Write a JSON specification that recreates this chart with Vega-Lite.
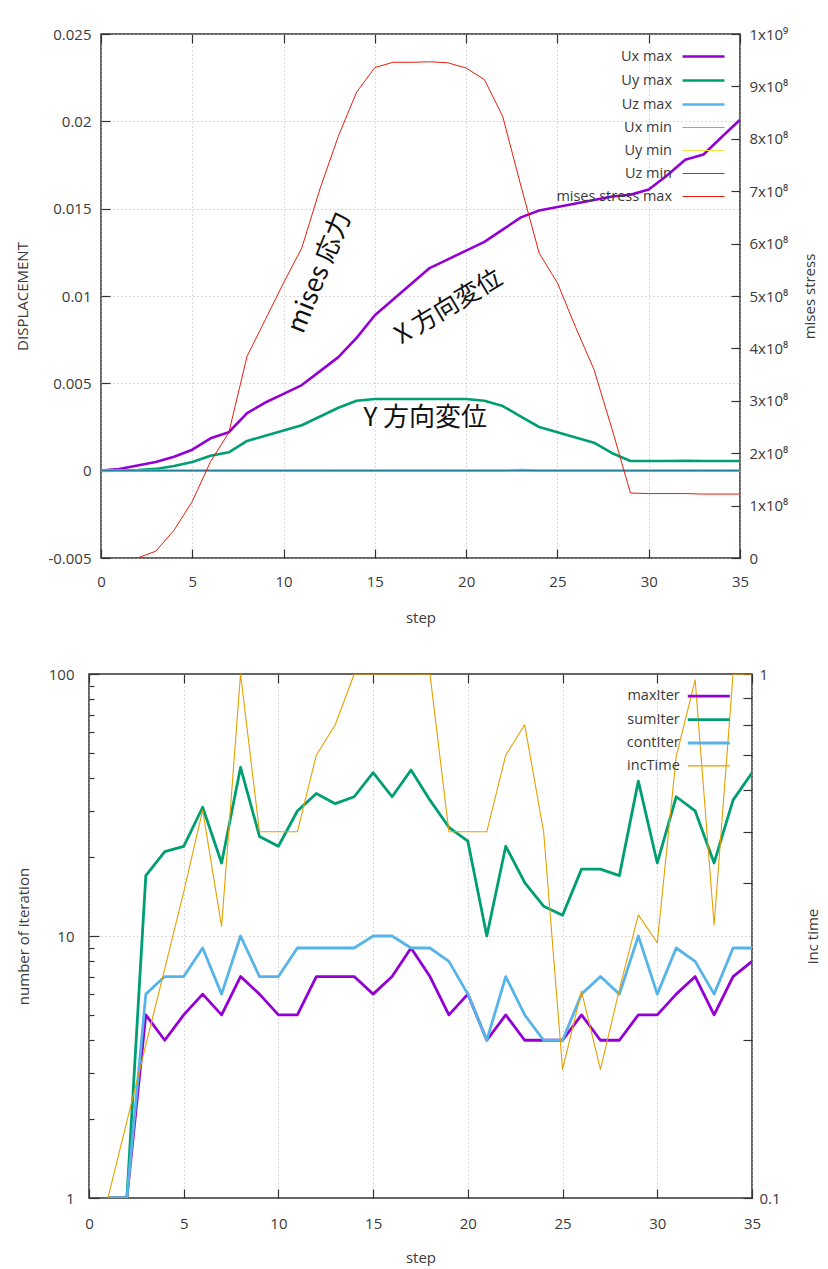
{
  "$schema": "https://vega.github.io/schema/vega-lite/v6.json",
  "background": "white",
  "padding": {"top": 26, "left": 14, "right": 0, "bottom": 0},
  "config": {
    "font": "Open Sans",
    "view": {"stroke": "#333333", "strokeWidth": 1.5},
    "axis": {"labelFontSize": 15, "labelColor": "#3a3a3a", "titleFontSize": 15, "titleFontWeight": "normal", "titleColor": "#3a3a3a", "tickColor": "#333333", "tickWidth": 1.2, "domain": false, "gridColor": "#b5b5b5", "gridDash": [1, 3], "gridWidth": 1, "labelFlush": false, "labelOverlap": false},
    "line": {"strokeJoin": "round"}
  },
  "datasets": {
    "disp": [
      {"step":0,"series":"Ux max","value":0},{"step":1,"series":"Ux max","value":0.0001},{"step":2,"series":"Ux max","value":0.0003},{"step":3,"series":"Ux max","value":0.0005},{"step":4,"series":"Ux max","value":0.0008},{"step":5,"series":"Ux max","value":0.0012},{"step":6,"series":"Ux max","value":0.00185},{"step":7,"series":"Ux max","value":0.0022},{"step":8,"series":"Ux max","value":0.0033},{"step":9,"series":"Ux max","value":0.0039},{"step":10,"series":"Ux max","value":0.0044},{"step":11,"series":"Ux max","value":0.0049},{"step":12,"series":"Ux max","value":0.0057},{"step":13,"series":"Ux max","value":0.0065},{"step":14,"series":"Ux max","value":0.0076},{"step":15,"series":"Ux max","value":0.0089},{"step":16,"series":"Ux max","value":0.0098},{"step":17,"series":"Ux max","value":0.0107},{"step":18,"series":"Ux max","value":0.0116},{"step":19,"series":"Ux max","value":0.0121},{"step":20,"series":"Ux max","value":0.0126},{"step":21,"series":"Ux max","value":0.0131},{"step":22,"series":"Ux max","value":0.0138},{"step":23,"series":"Ux max","value":0.0145},{"step":24,"series":"Ux max","value":0.0149},{"step":25,"series":"Ux max","value":0.0151},{"step":26,"series":"Ux max","value":0.0153},{"step":27,"series":"Ux max","value":0.0155},{"step":28,"series":"Ux max","value":0.0157},{"step":29,"series":"Ux max","value":0.0158},{"step":30,"series":"Ux max","value":0.0161},{"step":31,"series":"Ux max","value":0.0169},{"step":32,"series":"Ux max","value":0.0178},{"step":33,"series":"Ux max","value":0.0181},{"step":34,"series":"Ux max","value":0.0191},{"step":35,"series":"Ux max","value":0.0201},
      {"step":0,"series":"Uy max","value":0},{"step":1,"series":"Uy max","value":0},{"step":2,"series":"Uy max","value":0.00003},{"step":3,"series":"Uy max","value":0.0001},{"step":4,"series":"Uy max","value":0.00027},{"step":5,"series":"Uy max","value":0.0005},{"step":6,"series":"Uy max","value":0.00085},{"step":7,"series":"Uy max","value":0.00105},{"step":8,"series":"Uy max","value":0.0017},{"step":9,"series":"Uy max","value":0.002},{"step":10,"series":"Uy max","value":0.0023},{"step":11,"series":"Uy max","value":0.0026},{"step":12,"series":"Uy max","value":0.0031},{"step":13,"series":"Uy max","value":0.0036},{"step":14,"series":"Uy max","value":0.004},{"step":15,"series":"Uy max","value":0.0041},{"step":16,"series":"Uy max","value":0.0041},{"step":17,"series":"Uy max","value":0.0041},{"step":18,"series":"Uy max","value":0.0041},{"step":19,"series":"Uy max","value":0.0041},{"step":20,"series":"Uy max","value":0.0041},{"step":21,"series":"Uy max","value":0.004},{"step":22,"series":"Uy max","value":0.0037},{"step":23,"series":"Uy max","value":0.0031},{"step":24,"series":"Uy max","value":0.0025},{"step":25,"series":"Uy max","value":0.0022},{"step":26,"series":"Uy max","value":0.0019},{"step":27,"series":"Uy max","value":0.0016},{"step":28,"series":"Uy max","value":0.001},{"step":29,"series":"Uy max","value":0.00055},{"step":30,"series":"Uy max","value":0.00055},{"step":31,"series":"Uy max","value":0.00055},{"step":32,"series":"Uy max","value":0.00056},{"step":33,"series":"Uy max","value":0.00055},{"step":34,"series":"Uy max","value":0.00055},{"step":35,"series":"Uy max","value":0.00055},
      {"step":0,"series":"Uz max","value":0},{"step":1,"series":"Uz max","value":0},{"step":2,"series":"Uz max","value":0},{"step":3,"series":"Uz max","value":0},{"step":4,"series":"Uz max","value":0},{"step":5,"series":"Uz max","value":0},{"step":6,"series":"Uz max","value":0},{"step":7,"series":"Uz max","value":0},{"step":8,"series":"Uz max","value":0},{"step":9,"series":"Uz max","value":0},{"step":10,"series":"Uz max","value":0},{"step":11,"series":"Uz max","value":0},{"step":12,"series":"Uz max","value":0},{"step":13,"series":"Uz max","value":0},{"step":14,"series":"Uz max","value":0},{"step":15,"series":"Uz max","value":0},{"step":16,"series":"Uz max","value":0},{"step":17,"series":"Uz max","value":0},{"step":18,"series":"Uz max","value":0},{"step":19,"series":"Uz max","value":0},{"step":20,"series":"Uz max","value":0},{"step":21,"series":"Uz max","value":0},{"step":22,"series":"Uz max","value":0},{"step":23,"series":"Uz max","value":0.00003},{"step":24,"series":"Uz max","value":0},{"step":25,"series":"Uz max","value":0},{"step":26,"series":"Uz max","value":0},{"step":27,"series":"Uz max","value":0},{"step":28,"series":"Uz max","value":0},{"step":29,"series":"Uz max","value":0},{"step":30,"series":"Uz max","value":0},{"step":31,"series":"Uz max","value":0},{"step":32,"series":"Uz max","value":0},{"step":33,"series":"Uz max","value":0},{"step":34,"series":"Uz max","value":0},{"step":35,"series":"Uz max","value":0},
      {"step":0,"series":"Ux min","value":0},{"step":1,"series":"Ux min","value":0},{"step":2,"series":"Ux min","value":0},{"step":3,"series":"Ux min","value":0},{"step":4,"series":"Ux min","value":0},{"step":5,"series":"Ux min","value":0},{"step":6,"series":"Ux min","value":0},{"step":7,"series":"Ux min","value":0},{"step":8,"series":"Ux min","value":0},{"step":9,"series":"Ux min","value":0},{"step":10,"series":"Ux min","value":0},{"step":11,"series":"Ux min","value":0},{"step":12,"series":"Ux min","value":0},{"step":13,"series":"Ux min","value":0},{"step":14,"series":"Ux min","value":0},{"step":15,"series":"Ux min","value":0},{"step":16,"series":"Ux min","value":0},{"step":17,"series":"Ux min","value":0},{"step":18,"series":"Ux min","value":0},{"step":19,"series":"Ux min","value":0},{"step":20,"series":"Ux min","value":0},{"step":21,"series":"Ux min","value":0},{"step":22,"series":"Ux min","value":0},{"step":23,"series":"Ux min","value":0},{"step":24,"series":"Ux min","value":0},{"step":25,"series":"Ux min","value":0},{"step":26,"series":"Ux min","value":0},{"step":27,"series":"Ux min","value":0},{"step":28,"series":"Ux min","value":0},{"step":29,"series":"Ux min","value":0},{"step":30,"series":"Ux min","value":0},{"step":31,"series":"Ux min","value":0},{"step":32,"series":"Ux min","value":0},{"step":33,"series":"Ux min","value":0},{"step":34,"series":"Ux min","value":0},{"step":35,"series":"Ux min","value":0},
      {"step":0,"series":"Uy min","value":0},{"step":1,"series":"Uy min","value":0},{"step":2,"series":"Uy min","value":0},{"step":3,"series":"Uy min","value":0},{"step":4,"series":"Uy min","value":0},{"step":5,"series":"Uy min","value":0},{"step":6,"series":"Uy min","value":0},{"step":7,"series":"Uy min","value":0},{"step":8,"series":"Uy min","value":0},{"step":9,"series":"Uy min","value":0},{"step":10,"series":"Uy min","value":0},{"step":11,"series":"Uy min","value":0},{"step":12,"series":"Uy min","value":0},{"step":13,"series":"Uy min","value":0},{"step":14,"series":"Uy min","value":0},{"step":15,"series":"Uy min","value":0},{"step":16,"series":"Uy min","value":0},{"step":17,"series":"Uy min","value":0},{"step":18,"series":"Uy min","value":0},{"step":19,"series":"Uy min","value":0},{"step":20,"series":"Uy min","value":0},{"step":21,"series":"Uy min","value":0},{"step":22,"series":"Uy min","value":0},{"step":23,"series":"Uy min","value":0},{"step":24,"series":"Uy min","value":0},{"step":25,"series":"Uy min","value":0},{"step":26,"series":"Uy min","value":0},{"step":27,"series":"Uy min","value":0},{"step":28,"series":"Uy min","value":0},{"step":29,"series":"Uy min","value":0},{"step":30,"series":"Uy min","value":0},{"step":31,"series":"Uy min","value":0},{"step":32,"series":"Uy min","value":0},{"step":33,"series":"Uy min","value":0},{"step":34,"series":"Uy min","value":0},{"step":35,"series":"Uy min","value":0},
      {"step":0,"series":"Uz min","value":0},{"step":1,"series":"Uz min","value":0},{"step":2,"series":"Uz min","value":0},{"step":3,"series":"Uz min","value":0},{"step":4,"series":"Uz min","value":0},{"step":5,"series":"Uz min","value":0},{"step":6,"series":"Uz min","value":0},{"step":7,"series":"Uz min","value":0},{"step":8,"series":"Uz min","value":0},{"step":9,"series":"Uz min","value":0},{"step":10,"series":"Uz min","value":0},{"step":11,"series":"Uz min","value":0},{"step":12,"series":"Uz min","value":0},{"step":13,"series":"Uz min","value":0},{"step":14,"series":"Uz min","value":0},{"step":15,"series":"Uz min","value":0},{"step":16,"series":"Uz min","value":0},{"step":17,"series":"Uz min","value":0},{"step":18,"series":"Uz min","value":0},{"step":19,"series":"Uz min","value":0},{"step":20,"series":"Uz min","value":0},{"step":21,"series":"Uz min","value":0},{"step":22,"series":"Uz min","value":0},{"step":23,"series":"Uz min","value":0},{"step":24,"series":"Uz min","value":0},{"step":25,"series":"Uz min","value":0},{"step":26,"series":"Uz min","value":0},{"step":27,"series":"Uz min","value":0},{"step":28,"series":"Uz min","value":0},{"step":29,"series":"Uz min","value":0},{"step":30,"series":"Uz min","value":0},{"step":31,"series":"Uz min","value":0},{"step":32,"series":"Uz min","value":0},{"step":33,"series":"Uz min","value":0},{"step":34,"series":"Uz min","value":0},{"step":35,"series":"Uz min","value":0}
    ],
    "stress": [
      {"step":0,"series":"mises stress max","value":0},{"step":1,"series":"mises stress max","value":0},{"step":2,"series":"mises stress max","value":0},{"step":3,"series":"mises stress max","value":1.3e7},{"step":4,"series":"mises stress max","value":5.3e7},{"step":5,"series":"mises stress max","value":1.08e8},{"step":6,"series":"mises stress max","value":1.84e8},{"step":7,"series":"mises stress max","value":2.39e8},{"step":8,"series":"mises stress max","value":3.85e8},{"step":9,"series":"mises stress max","value":4.55e8},{"step":10,"series":"mises stress max","value":5.25e8},{"step":11,"series":"mises stress max","value":5.92e8},{"step":12,"series":"mises stress max","value":7.05e8},{"step":13,"series":"mises stress max","value":8.05e8},{"step":14,"series":"mises stress max","value":8.89e8},{"step":15,"series":"mises stress max","value":9.36e8},{"step":16,"series":"mises stress max","value":9.46e8},{"step":17,"series":"mises stress max","value":9.46e8},{"step":18,"series":"mises stress max","value":9.47e8},{"step":19,"series":"mises stress max","value":9.45e8},{"step":20,"series":"mises stress max","value":9.35e8},{"step":21,"series":"mises stress max","value":9.13e8},{"step":22,"series":"mises stress max","value":8.43e8},{"step":23,"series":"mises stress max","value":7.1e8},{"step":24,"series":"mises stress max","value":5.82e8},{"step":25,"series":"mises stress max","value":5.25e8},{"step":26,"series":"mises stress max","value":4.4e8},{"step":27,"series":"mises stress max","value":3.6e8},{"step":28,"series":"mises stress max","value":2.45e8},{"step":29,"series":"mises stress max","value":1.24e8},{"step":30,"series":"mises stress max","value":1.23e8},{"step":31,"series":"mises stress max","value":1.23e8},{"step":32,"series":"mises stress max","value":1.23e8},{"step":33,"series":"mises stress max","value":1.22e8},{"step":34,"series":"mises stress max","value":1.22e8},{"step":35,"series":"mises stress max","value":1.22e8}
    ],
    "iter": [
      {"step":1,"series":"maxIter","value":1},{"step":2,"series":"maxIter","value":1},{"step":3,"series":"maxIter","value":5},{"step":4,"series":"maxIter","value":4},{"step":5,"series":"maxIter","value":5},{"step":6,"series":"maxIter","value":6},{"step":7,"series":"maxIter","value":5},{"step":8,"series":"maxIter","value":7},{"step":9,"series":"maxIter","value":6},{"step":10,"series":"maxIter","value":5},{"step":11,"series":"maxIter","value":5},{"step":12,"series":"maxIter","value":7},{"step":13,"series":"maxIter","value":7},{"step":14,"series":"maxIter","value":7},{"step":15,"series":"maxIter","value":6},{"step":16,"series":"maxIter","value":7},{"step":17,"series":"maxIter","value":9},{"step":18,"series":"maxIter","value":7},{"step":19,"series":"maxIter","value":5},{"step":20,"series":"maxIter","value":6},{"step":21,"series":"maxIter","value":4},{"step":22,"series":"maxIter","value":5},{"step":23,"series":"maxIter","value":4},{"step":24,"series":"maxIter","value":4},{"step":25,"series":"maxIter","value":4},{"step":26,"series":"maxIter","value":5},{"step":27,"series":"maxIter","value":4},{"step":28,"series":"maxIter","value":4},{"step":29,"series":"maxIter","value":5},{"step":30,"series":"maxIter","value":5},{"step":31,"series":"maxIter","value":6},{"step":32,"series":"maxIter","value":7},{"step":33,"series":"maxIter","value":5},{"step":34,"series":"maxIter","value":7},{"step":35,"series":"maxIter","value":8},
      {"step":1,"series":"sumIter","value":1},{"step":2,"series":"sumIter","value":1},{"step":3,"series":"sumIter","value":17},{"step":4,"series":"sumIter","value":21},{"step":5,"series":"sumIter","value":22},{"step":6,"series":"sumIter","value":31},{"step":7,"series":"sumIter","value":19},{"step":8,"series":"sumIter","value":44},{"step":9,"series":"sumIter","value":24},{"step":10,"series":"sumIter","value":22},{"step":11,"series":"sumIter","value":30},{"step":12,"series":"sumIter","value":35},{"step":13,"series":"sumIter","value":32},{"step":14,"series":"sumIter","value":34},{"step":15,"series":"sumIter","value":42},{"step":16,"series":"sumIter","value":34},{"step":17,"series":"sumIter","value":43},{"step":18,"series":"sumIter","value":33},{"step":19,"series":"sumIter","value":26},{"step":20,"series":"sumIter","value":23},{"step":21,"series":"sumIter","value":10},{"step":22,"series":"sumIter","value":22},{"step":23,"series":"sumIter","value":16},{"step":24,"series":"sumIter","value":13},{"step":25,"series":"sumIter","value":12},{"step":26,"series":"sumIter","value":18},{"step":27,"series":"sumIter","value":18},{"step":28,"series":"sumIter","value":17},{"step":29,"series":"sumIter","value":39},{"step":30,"series":"sumIter","value":19},{"step":31,"series":"sumIter","value":34},{"step":32,"series":"sumIter","value":30},{"step":33,"series":"sumIter","value":19},{"step":34,"series":"sumIter","value":33},{"step":35,"series":"sumIter","value":42},
      {"step":1,"series":"contIter","value":1},{"step":2,"series":"contIter","value":1},{"step":3,"series":"contIter","value":6},{"step":4,"series":"contIter","value":7},{"step":5,"series":"contIter","value":7},{"step":6,"series":"contIter","value":9},{"step":7,"series":"contIter","value":6},{"step":8,"series":"contIter","value":10},{"step":9,"series":"contIter","value":7},{"step":10,"series":"contIter","value":7},{"step":11,"series":"contIter","value":9},{"step":12,"series":"contIter","value":9},{"step":13,"series":"contIter","value":9},{"step":14,"series":"contIter","value":9},{"step":15,"series":"contIter","value":10},{"step":16,"series":"contIter","value":10},{"step":17,"series":"contIter","value":9},{"step":18,"series":"contIter","value":9},{"step":19,"series":"contIter","value":8},{"step":20,"series":"contIter","value":6},{"step":21,"series":"contIter","value":4},{"step":22,"series":"contIter","value":7},{"step":23,"series":"contIter","value":5},{"step":24,"series":"contIter","value":4},{"step":25,"series":"contIter","value":4},{"step":26,"series":"contIter","value":6},{"step":27,"series":"contIter","value":7},{"step":28,"series":"contIter","value":6},{"step":29,"series":"contIter","value":10},{"step":30,"series":"contIter","value":6},{"step":31,"series":"contIter","value":9},{"step":32,"series":"contIter","value":8},{"step":33,"series":"contIter","value":6},{"step":34,"series":"contIter","value":9},{"step":35,"series":"contIter","value":9}
    ],
    "inc": [
      {"step":1,"series":"incTime","value":0.1},{"step":2,"series":"incTime","value":0.14},{"step":3,"series":"incTime","value":0.196},{"step":4,"series":"incTime","value":0.274},{"step":5,"series":"incTime","value":0.384},{"step":6,"series":"incTime","value":0.55},{"step":7,"series":"incTime","value":0.33},{"step":8,"series":"incTime","value":1},{"step":9,"series":"incTime","value":0.5},{"step":10,"series":"incTime","value":0.5},{"step":11,"series":"incTime","value":0.5},{"step":12,"series":"incTime","value":0.7},{"step":13,"series":"incTime","value":0.8},{"step":14,"series":"incTime","value":1},{"step":15,"series":"incTime","value":1},{"step":16,"series":"incTime","value":1},{"step":17,"series":"incTime","value":1},{"step":18,"series":"incTime","value":1},{"step":19,"series":"incTime","value":0.5},{"step":20,"series":"incTime","value":0.5},{"step":21,"series":"incTime","value":0.5},{"step":22,"series":"incTime","value":0.7},{"step":23,"series":"incTime","value":0.8},{"step":24,"series":"incTime","value":0.5},{"step":25,"series":"incTime","value":0.176},{"step":26,"series":"incTime","value":0.248},{"step":27,"series":"incTime","value":0.176},{"step":28,"series":"incTime","value":0.25},{"step":29,"series":"incTime","value":0.347},{"step":30,"series":"incTime","value":0.307},{"step":31,"series":"incTime","value":0.696},{"step":32,"series":"incTime","value":0.975},{"step":33,"series":"incTime","value":0.332},{"step":34,"series":"incTime","value":1},{"step":35,"series":"incTime","value":1}
    ]
  },
  "concat": [
    {
      "width": 639,
      "height": 524,
      "layer": [
        {
          "data": {"name": "disp"},
          "mark": {"type": "line", "clip": true},
          "encoding": {
            "x": {"field": "step", "type": "quantitative", "scale": {"domain": [0, 35], "nice": false, "zero": false},
              "axis": {"orient": "bottom", "values": [0,5,10,15,20,25,30,35], "title": "step", "grid": true, "tickSize": -9, "labelPadding": 25, "minExtent": 38, "maxExtent": 38, "titlePadding": 14}},
            "y": {"field": "value", "type": "quantitative", "scale": {"domain": [-0.005, 0.025], "nice": false, "zero": false},
              "axis": {"orient": "left", "values": [-0.005, 0, 0.005, 0.01, 0.015, 0.02, 0.025], "labelExpr": "datum.value + ''", "title": "DISPLACEMENT", "grid": true, "tickSize": -9, "labelPadding": 19, "minExtent": 50, "maxExtent": 50, "titlePadding": 21}},
            "color": {"field": "series", "type": "nominal",
              "scale": {"domain": ["Ux max","Uy max","Uz max","Ux min","Uy min","Uz min","mises stress max"], "range": ["#9400d3","#009e73","#56b4e9","#e69f00","#f0e442","#0072b2","#e51e10"]},
              "legend": {"orient": "none", "legendX": 590.5, "legendY": 10.5, "title": null, "symbolType": "M-2,0L2,0", "symbolSize": 441, "labelAlign": "right", "labelOffset": -43.5, "labelFontSize": 14.5, "labelColor": "#3a3a3a", "rowPadding": 5, "padding": 0}},
            "strokeWidth": {"field": "series", "type": "nominal",
              "scale": {"type": "ordinal", "domain": ["Ux max","Uy max","Uz max","Ux min","Uy min","Uz min","mises stress max"], "range": [2.6, 2.6, 2.6, 1, 1, 1, 1]},
              "legend": {"orient": "none", "legendX": 590.5, "legendY": 10.5, "title": null, "symbolType": "M-2,0L2,0", "symbolSize": 441, "labelAlign": "right", "labelOffset": -43.5, "labelFontSize": 14.5, "labelColor": "#3a3a3a", "rowPadding": 5, "padding": 0}}
          }
        },
        {
          "data": {"name": "stress"},
          "mark": {"type": "line", "clip": true},
          "encoding": {
            "x": {"field": "step", "type": "quantitative", "axis": {"orient": "top", "values": [0,5,10,15,20,25,30,35], "labels": false, "title": null, "grid": false, "tickSize": -9}},
            "y": {"field": "value", "type": "quantitative", "scale": {"domain": [0, 1000000000], "nice": false, "zero": false},
              "axis": {"orient": "right", "values": [0,100000000,200000000,300000000,400000000,500000000,600000000,700000000,800000000,900000000,1000000000], "labelExpr": "datum.value == 0 ? '0' : (datum.value >= 1e9 ? '1x10⁹' : round(datum.value / 1e8) + 'x10⁸')", "title": "mises stress", "titleAngle": 270, "titleBaseline": "top", "grid": false, "tickSize": -9, "labelPadding": 18, "minExtent": 50, "maxExtent": 50, "titlePadding": 12}},
            "color": {"field": "series", "type": "nominal",
              "scale": {"domain": ["Ux max","Uy max","Uz max","Ux min","Uy min","Uz min","mises stress max"], "range": ["#9400d3","#009e73","#56b4e9","#e69f00","#f0e442","#0072b2","#e51e10"]},
              "legend": {"orient": "none", "legendX": 590.5, "legendY": 10.5, "title": null, "symbolType": "M-2,0L2,0", "symbolSize": 441, "labelAlign": "right", "labelOffset": -43.5, "labelFontSize": 14.5, "labelColor": "#3a3a3a", "rowPadding": 5, "padding": 0}},
            "strokeWidth": {"field": "series", "type": "nominal",
              "scale": {"type": "ordinal", "domain": ["Ux max","Uy max","Uz max","Ux min","Uy min","Uz min","mises stress max"], "range": [2.6, 2.6, 2.6, 1, 1, 1, 1]},
              "legend": {"orient": "none", "legendX": 590.5, "legendY": 10.5, "title": null, "symbolType": "M-2,0L2,0", "symbolSize": 441, "labelAlign": "right", "labelOffset": -43.5, "labelFontSize": 14.5, "labelColor": "#3a3a3a", "rowPadding": 5, "padding": 0}}
          }
        },
        {
          "data": {"values": [{"step": 11.97, "value": 0.01135, "label": "mises 応力"}]},
          "mark": {"type": "text", "angle": 292, "font": "Noto Sans CJK JP", "fontSize": 26, "align": "center", "baseline": "middle", "color": "#111111"},
          "encoding": {"x": {"field": "step", "type": "quantitative", "axis": null}, "y": {"field": "value", "type": "quantitative", "scale": {"domain": [-0.005, 0.025], "nice": false, "zero": false}, "axis": null}, "text": {"field": "label"}}
        },
        {
          "data": {"values": [{"step": 19.04, "value": 0.00939, "label": "X 方向変位"}]},
          "mark": {"type": "text", "angle": 329, "font": "Noto Sans CJK JP", "fontSize": 25, "align": "center", "baseline": "middle", "color": "#111111"},
          "encoding": {"x": {"field": "step", "type": "quantitative", "axis": null}, "y": {"field": "value", "type": "quantitative", "scale": {"domain": [-0.005, 0.025], "nice": false, "zero": false}, "axis": null}, "text": {"field": "label"}}
        },
        {
          "data": {"values": [{"step": 17.76, "value": 0.003, "label": "Y 方向変位"}]},
          "mark": {"type": "text", "font": "Noto Sans CJK JP", "fontSize": 26, "align": "center", "baseline": "middle", "color": "#111111"},
          "encoding": {"x": {"field": "step", "type": "quantitative", "axis": null}, "y": {"field": "value", "type": "quantitative", "scale": {"domain": [-0.005, 0.025], "nice": false, "zero": false}, "axis": null}, "text": {"field": "label"}}
        }
      ],
      "resolve": {"scale": {"y": "independent"}, "axis": {"y": "independent", "x": "independent"}}
    },
    {
      "width": 663,
      "height": 524,
      "layer": [
        {
          "data": {"name": "iter"},
          "mark": {"type": "line", "clip": true},
          "encoding": {
            "x": {"field": "step", "type": "quantitative", "scale": {"domain": [0, 35], "nice": false, "zero": false},
              "axis": {"orient": "bottom", "values": [0,5,10,15,20,25,30,35], "title": "step", "grid": true, "tickSize": -9, "labelPadding": 27, "minExtent": 35, "maxExtent": 35, "titlePadding": 17}},
            "y": {"field": "value", "type": "quantitative", "scale": {"type": "log", "domain": [1, 100], "nice": false},
              "axis": {"orient": "left", "values": [1,2,3,4,5,6,7,8,9,10,20,30,40,50,60,70,80,90,100], "labelExpr": "indexof([1,10,100], datum.value) >= 0 ? datum.value + '' : ''", "title": "number of iteration", "grid": true,
                "gridOpacity": {"condition": {"test": "datum.value == 10", "value": 1}, "value": 0},
                "tickSize": {"condition": {"test": "indexof([1,10,100], datum.value) >= 0", "value": -10}, "value": -5},
                "labelPadding": 25, "minExtent": 35, "maxExtent": 35, "titlePadding": 23}},
            "color": {"field": "series", "type": "nominal",
              "scale": {"domain": ["maxIter","sumIter","contIter","incTime"], "range": ["#9400d3","#009e73","#56b4e9","#e69f00"]},
              "legend": {"orient": "none", "legendX": 607.8, "legendY": 10.2, "title": null, "symbolType": "M-2,0L2,0", "symbolSize": 441, "labelAlign": "right", "labelOffset": -41, "labelFontSize": 14.5, "labelColor": "#3a3a3a", "rowPadding": 4.4, "padding": 0}},
            "strokeWidth": {"field": "series", "type": "nominal",
              "scale": {"type": "ordinal", "domain": ["maxIter","sumIter","contIter","incTime"], "range": [2.8, 2.8, 2.8, 1.1]},
              "legend": {"orient": "none", "legendX": 607.8, "legendY": 10.2, "title": null, "symbolType": "M-2,0L2,0", "symbolSize": 441, "labelAlign": "right", "labelOffset": -41, "labelFontSize": 14.5, "labelColor": "#3a3a3a", "rowPadding": 4.4, "padding": 0}}
          }
        },
        {
          "data": {"name": "inc"},
          "mark": {"type": "line", "clip": true},
          "encoding": {
            "x": {"field": "step", "type": "quantitative", "axis": {"orient": "top", "values": [0,5,10,15,20,25,30,35], "labels": false, "title": null, "grid": false, "tickSize": -9}},
            "y": {"field": "value", "type": "quantitative", "scale": {"type": "log", "domain": [0.1, 1], "nice": false},
              "axis": {"orient": "right", "values": [0.1,0.2,0.3,0.4,0.5,0.6,0.7,0.8,0.9,1], "labelExpr": "datum.value == 0.1 ? '0.1' : (datum.value == 1 ? '1' : '')", "title": "inc time", "titleAngle": 270, "titleBaseline": "top", "grid": false, "tickSize": -9, "labelPadding": 16, "minExtent": 40, "maxExtent": 40, "titlePadding": 13}},
            "color": {"field": "series", "type": "nominal",
              "scale": {"domain": ["maxIter","sumIter","contIter","incTime"], "range": ["#9400d3","#009e73","#56b4e9","#e69f00"]},
              "legend": {"orient": "none", "legendX": 607.8, "legendY": 10.2, "title": null, "symbolType": "M-2,0L2,0", "symbolSize": 441, "labelAlign": "right", "labelOffset": -41, "labelFontSize": 14.5, "labelColor": "#3a3a3a", "rowPadding": 4.4, "padding": 0}},
            "strokeWidth": {"field": "series", "type": "nominal",
              "scale": {"type": "ordinal", "domain": ["maxIter","sumIter","contIter","incTime"], "range": [2.8, 2.8, 2.8, 1.1]},
              "legend": {"orient": "none", "legendX": 607.8, "legendY": 10.2, "title": null, "symbolType": "M-2,0L2,0", "symbolSize": 441, "labelAlign": "right", "labelOffset": -41, "labelFontSize": 14.5, "labelColor": "#3a3a3a", "rowPadding": 4.4, "padding": 0}}
          }
        }
      ],
      "resolve": {"scale": {"y": "independent"}, "axis": {"y": "independent", "x": "independent"}}
    }
  ],
  "columns": 1,
  "bounds": "flush",
  "center": true,
  "spacing": 116,
  "resolve": {"scale": {"color": "independent", "strokeWidth": "independent"}, "legend": {"color": "independent", "strokeWidth": "independent"}}
}
